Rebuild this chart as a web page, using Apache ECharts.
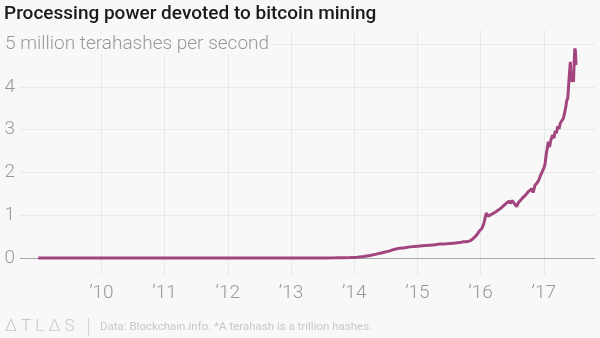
<!DOCTYPE html>
<html>
<head>
<meta charset="utf-8">
<script src="https://cdn.jsdelivr.net/npm/echarts@6/dist/echarts.min.js"></script>
<style>
html,body{margin:0;padding:0;background:#f8f8f8;}
#chart{width:600px;height:338px;}
</style>
</head>
<body>
<div id="chart"></div>
<script>
// Decimal years
const years = [2009.0, 2010.0, 2011.0, 2012.0, 2013.0, 2013.5, 2013.7, 2013.85, 2013.94, 2014.05, 2014.15, 2014.25, 2014.35, 2014.46, 2014.55, 2014.63, 2014.72, 2014.8, 2014.88, 2014.96, 2015.04, 2015.12, 2015.2, 2015.28, 2015.36, 2015.44, 2015.52, 2015.6, 2015.67, 2015.73, 2015.78, 2015.83, 2015.88, 2015.94, 2015.98, 2016.02, 2016.05, 2016.07, 2016.09, 2016.1, 2016.12, 2016.15, 2016.17, 2016.2, 2016.23, 2016.25, 2016.28, 2016.31, 2016.34, 2016.36, 2016.39, 2016.42, 2016.45, 2016.47, 2016.5, 2016.52, 2016.54, 2016.57, 2016.6, 2016.63, 2016.66, 2016.68, 2016.71, 2016.74, 2016.76, 2016.78, 2016.81, 2016.83, 2016.86, 2016.89, 2016.92, 2016.95, 2016.97, 2017.0, 2017.02, 2017.04, 2017.06, 2017.07, 2017.09, 2017.11, 2017.12, 2017.14, 2017.16, 2017.18, 2017.2, 2017.22, 2017.24, 2017.26, 2017.28, 2017.31, 2017.33, 2017.35, 2017.36, 2017.38, 2017.4, 2017.41, 2017.42, 2017.43, 2017.45, 2017.46, 2017.47, 2017.48, 2017.49, 2017.5, 2017.51];
// Million terahashes per second
const hashRate = [0, 0, 0, 0, 0, 0.001, 0.003, 0.008, 0.012, 0.02, 0.035, 0.06, 0.09, 0.13, 0.16, 0.2, 0.23, 0.24, 0.26, 0.27, 0.28, 0.29, 0.30, 0.31, 0.33, 0.33, 0.34, 0.35, 0.36, 0.38, 0.38, 0.40, 0.45, 0.54, 0.63, 0.69, 0.80, 0.93, 1.05, 1.02, 0.98, 0.97, 1.02, 0.99, 1.07, 1.03, 1.12, 1.08, 1.19, 1.15, 1.26, 1.22, 1.33, 1.28, 1.34, 1.31, 1.26, 1.20, 1.30, 1.27, 1.40, 1.36, 1.47, 1.43, 1.56, 1.52, 1.62, 1.53, 1.70, 1.75, 1.82, 1.94, 1.98, 2.10, 2.2, 2.45, 2.6, 2.72, 2.60, 2.75, 2.72, 2.88, 2.80, 2.97, 2.92, 3.08, 3.02, 3.15, 3.12, 3.27, 3.40, 3.55, 3.66, 3.75, 4.20, 4.40, 4.59, 4.25, 4.12, 4.35, 4.12, 4.55, 4.90, 4.85, 4.51];
const xTicks = [2010, 2011, 2012, 2013, 2014, 2015, 2016, 2017];
const yTicks = [0, 1, 2, 3, 4, 5];
const yLabelTicks = [0, 1, 2, 3, 4];

const chart = echarts.init(document.getElementById('chart'), null, {renderer: 'canvas'});
const seriesData = years.map((y, i) => [y, hashRate[i]]);

chart.setOption({
  backgroundColor: '#f8f8f8',
  animation: false,
  title: {
    text: 'Processing power devoted to bitcoin mining',
    left: 4, top: 5, padding: 0,
    textStyle: {fontFamily: 'Roboto', fontWeight: 500, fontSize: 19, color: '#1a1a1a'}
  },
  grid: {left: 20, right: 5, top: 30, bottom: 63},
  xAxis: {
    type: 'value', min: 2008.712, max: 2017.81,
    axisLine: {show: false},
    axisTick: {show: false, customValues: xTicks},
    axisLabel: {
      customValues: xTicks,
      formatter: v => '\u2019' + String(Math.round(v) % 100).padStart(2, '0'),
      fontFamily: 'Roboto', fontWeight: 300, fontSize: 19, color: '#999', margin: 9
    },
    splitLine: {show: true, lineStyle: {color: '#e9e9e9', width: 1}}
  },
  yAxis: {
    type: 'value', min: -0.398, max: 5.333,
    axisLine: {show: false},
    axisTick: {show: false, customValues: yTicks},
    axisLabel: {
      customValues: yLabelTicks,
      fontFamily: 'Roboto', fontWeight: 300, fontSize: 19, color: '#999', margin: 5
    },
    splitLine: {show: true, lineStyle: {color: '#e9e9e9', width: 1}}
  },
  graphic: [
    {type: 'text', left: 5, top: 35, z: 100,
     style: {text: '5 million terahashes per second', fontFamily: 'Roboto', fontWeight: 300, fontSize: 19,
             fill: '#999', backgroundColor: '#f8f8f8', padding: [0, 5, 0, 0]}},
    {type: 'text', left: 5, top: 318, z: 100,
     style: {text: 'Δ T L Δ S', fontFamily: 'Roboto', fontWeight: 300, fontSize: 17, fill: '#c8c8c8'}},
    {type: 'rect', shape: {x: 88, y: 318, width: 1, height: 18}, style: {fill: '#d4d4d4'}, z: 100},
    {type: 'text', left: 100, top: 321, z: 100,
     style: {text: 'Data: Blockchain.info. *A terahash is a trillion hashes.', fontFamily: 'Roboto', fontWeight: 400, fontSize: 11.5, fill: '#c8c8c8'}}
  ],
  series: [{
    type: 'line',
    data: seriesData,
    showSymbol: false,
    lineStyle: {color: '#a2457f', width: 3},
    itemStyle: {color: '#a2457f'},
    z: 5,
    markLine: {
      silent: true, symbol: 'none', label: {show: false},
      lineStyle: {color: '#a8a8a8', width: 1, type: 'solid'},
      data: [{yAxis: 0}],
      z: 3
    }
  }]
});
</script>
</body>
</html>
